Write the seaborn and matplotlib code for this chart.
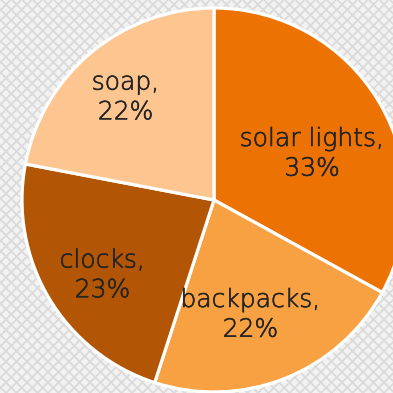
import numpy as np
import matplotlib
matplotlib.use("Agg")
import matplotlib.pyplot as plt
import matplotlib.patheffects as pe
import seaborn as sns

sns.set_style("white")
plt.rcParams["font.family"] = ["DejaVu Sans"]

# Share of sales by product
products = ["solar lights", "backpacks", "clocks", "soap"]
shares = [33, 22, 23, 22]
colors = ["#EC7204", "#F8A142", "#B25504", "#FDC590"]

# label placement: fraction of radius and angular nudge (degrees)
label_radius = [0.571, 0.613, 0.693, 0.717]
label_nudge = [-4.0, -3.6, 2.4, 0.4]

DPI = 100
SIZE = 393
fig = plt.figure(figsize=(SIZE / DPI, SIZE / DPI), dpi=DPI)
fig.patch.set_facecolor("#F2F2F2")

# crosshatched backdrop, drawn in pixel units
bg = fig.add_axes([0, 0, 1, 1], zorder=0)
bg.set_xlim(0, SIZE)
bg.set_ylim(0, SIZE)
bg.axis("off")
step = 10.5
for k in np.arange(-SIZE, SIZE * 2, step):
    bg.plot([k, k + SIZE], [0, SIZE], color="#DADADA", lw=1.3, solid_capstyle="butt")
    bg.plot([k, k - SIZE], [0, SIZE], color="#DADADA", lw=1.3, solid_capstyle="butt")

ax = fig.add_axes([0, 0, 1, 1], zorder=1)
ax.set_facecolor("none")

wedges, _ = ax.pie(shares, colors=colors, startangle=90, counterclock=False,
                   radius=1.0,
                   wedgeprops=dict(edgecolor="white", linewidth=2.3))

# pie centre and radius in pixels
cx, cy, R = 214, 200, 192
ax.set_xlim(-cx / R, (SIZE - cx) / R)
ax.set_ylim(-(SIZE - cy) / R, cy / R)
ax.axis("off")

ink = "#242424"
for w, name, val, rf, dn in zip(wedges, products, shares, label_radius, label_nudge):
    mid = np.deg2rad((w.theta1 + w.theta2) / 2 + dn)
    ax.text(rf * np.cos(mid), rf * np.sin(mid) - 0.015, f"{name},\n{val}%",
            ha="center", va="center", fontsize=18, color=ink,
            linespacing=1.3, fontweight="light",
            path_effects=[pe.withStroke(linewidth=0.45, foreground=ink)])

fig.savefig("out.png", dpi=DPI)
